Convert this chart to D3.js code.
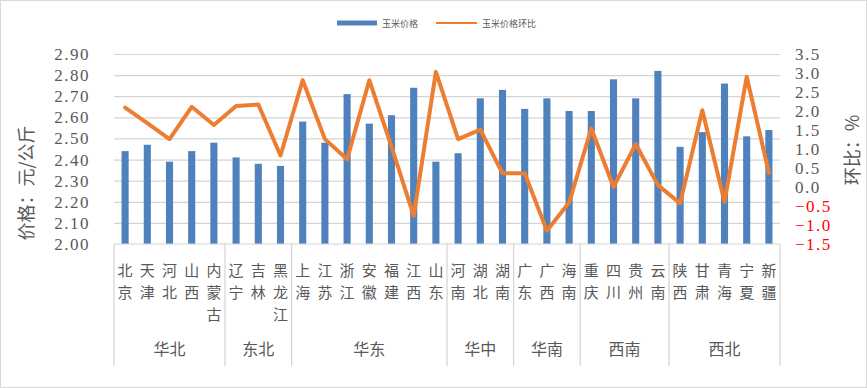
<!DOCTYPE html>
<html>
<head>
<meta charset="utf-8">
<script src="https://cdn.jsdelivr.net/npm/d3@7/dist/d3.min.js"></script>
<style>
  body { margin: 0; background: #fff; }
  text { font-family: "Noto Sans CJK SC", sans-serif; }
</style>
</head>
<body>
<svg id="chart" width="867" height="388"></svg>
<script>
const regions = ["华北", "东北", "华东", "华中", "华南", "西南", "西北"];
const regionSizes = [5, 3, 7, 3, 3, 4, 5];
const provinces = ["北京", "天津", "河北", "山西", "内蒙古", "辽宁", "吉林", "黑龙江",
  "上海", "江苏", "浙江", "安徽", "福建", "江西", "山东", "河南", "湖北", "湖南",
  "广东", "广西", "海南", "重庆", "四川", "贵州", "云南", "陕西", "甘肃", "青海", "宁夏", "新疆"];
const prices = [2.44, 2.47, 2.39, 2.44, 2.48, 2.41, 2.38, 2.37,
  2.58, 2.48, 2.71, 2.57, 2.61, 2.74, 2.39, 2.43, 2.69, 2.73,
  2.64, 2.69, 2.63, 2.63, 2.78, 2.69, 2.82, 2.46, 2.53, 2.76, 2.51, 2.54];
const changes = [2.09, 1.68, 1.26, 2.11, 1.63, 2.13, 2.17, 0.83,
  2.81, 1.26, 0.73, 2.81, 1.06, -0.76, 3.03, 1.26, 1.51, 0.36,
  0.36, -1.15, -0.41, 1.54, 0.0, 1.13, 0.05, -0.43, 2.02, -0.39, 2.9, 0.37];
const priceTicks = [2.0, 2.1, 2.2, 2.3, 2.4, 2.5, 2.6, 2.7, 2.8, 2.9];
const changeTicks = [-1.5, -1.0, -0.5, 0.0, 0.5, 1.0, 1.5, 2.0, 2.5, 3.0, 3.5];

const width = 867;
const height = 388;
const margin = { top: 54, left: 114, bottom: 144, right: 87 };
const iwidth = width - margin.left - margin.right;
const iheight = height - margin.top - margin.bottom;

const svg = d3.select("#chart");

// outer frame
svg.append("rect")
  .attr("x", 0.5).attr("y", 0.5)
  .attr("width", width - 1).attr("height", height - 1)
  .attr("fill", "#fff").attr("stroke", "#d9d9d9");

const g = svg.append("g")
  .attr("transform", `translate(${margin.left},${margin.top})`);

const x = d3.scaleBand().domain(provinces).range([0, iwidth]).padding(0);
const y = d3.scaleLinear().domain([2.0, 2.9]).range([iheight, 0]);
const y2 = d3.scaleLinear().domain([-1.5, 3.5]).range([iheight, 0]);

// gridlines
g.append("g")
  .attr("class", "grid")
  .call(d3.axisLeft(y).tickValues(priceTicks.slice(1)).tickSize(-iwidth).tickFormat(""))
  .call(s => s.select(".domain").remove())
  .call(s => s.selectAll("line").attr("stroke", "#d4d4d4").attr("stroke-width", 1.2));

// left axis labels
g.append("g")
  .call(d3.axisLeft(y).tickValues(priceTicks).tickSize(0).tickPadding(24).tickFormat(d3.format(".2f")))
  .call(s => s.select(".domain").remove())
  .call(s => s.selectAll("text")
    .attr("fill", "#595959")
    .style("font-family", "'Liberation Serif', serif")
    .style("font-size", "17px")
    .style("letter-spacing", "1.5px"));

// right axis labels
g.append("g")
  .attr("transform", `translate(${iwidth},0)`)
  .call(d3.axisRight(y2).tickValues(changeTicks).tickSize(0).tickPadding(15).tickFormat(d3.format(".1f")))
  .call(s => s.select(".domain").remove())
  .call(s => s.selectAll("text")
    .attr("fill", d => d < 0 ? "#ff0000" : "#595959")
    .style("font-family", "'Liberation Serif', serif")
    .style("font-size", "17px")
    .style("letter-spacing", "1.5px"));

// bars
const barW = x.bandwidth() * 0.32;
g.selectAll("rect.bar")
  .data(provinces)
  .enter()
  .append("rect")
  .attr("class", "bar")
  .attr("fill", "#4f81bd")
  .attr("x", d => x(d) + x.bandwidth() / 2 - barW / 2)
  .attr("y", (d, i) => y(prices[i]))
  .attr("width", barW)
  .attr("height", (d, i) => iheight - y(prices[i]));

// category axis
g.append("line")
  .attr("x1", 0).attr("x2", iwidth)
  .attr("y1", iheight).attr("y2", iheight)
  .attr("stroke", "#d4d4d4").attr("stroke-width", 1.2);

let start = 0;
const groups = regions.map((r, i) => {
  const grp = { name: r, first: provinces[start], last: provinces[start + regionSizes[i] - 1] };
  start += regionSizes[i];
  return grp;
});

const bounds = [0].concat(groups.map(d => x(d.last) + x.bandwidth()));
g.selectAll("line.sep")
  .data(bounds)
  .enter()
  .append("line")
  .attr("class", "sep")
  .attr("x1", d => d).attr("x2", d => d)
  .attr("y1", iheight).attr("y2", iheight + 122)
  .attr("stroke", "#d4d4d4").attr("stroke-width", 1.2);

// province names, one character per row
const chars = [];
provinces.forEach(p => p.split("").forEach((c, j) => chars.push({ p, c, j })));
g.selectAll("text.cat")
  .data(chars)
  .enter()
  .append("text")
  .attr("class", "cat")
  .attr("text-anchor", "middle")
  .attr("fill", "#595959")
  .style("font-size", "15px")
  .attr("x", d => x(d.p) + x.bandwidth() / 2)
  .attr("y", d => iheight + 32 + d.j * 22)
  .text(d => d.c);

g.selectAll("text.grp")
  .data(groups)
  .enter()
  .append("text")
  .attr("class", "grp")
  .attr("text-anchor", "middle")
  .attr("fill", "#595959")
  .style("font-size", "16px")
  .attr("x", d => (x(d.first) + x(d.last) + x.bandwidth()) / 2)
  .attr("y", iheight + 111)
  .text(d => d.name);

// change line
const line = d3.line()
  .x((d, i) => x(provinces[i]) + x.bandwidth() / 2)
  .y(d => y2(d));
g.append("path")
  .datum(changes)
  .attr("fill", "none")
  .attr("stroke", "#ed7d31")
  .attr("stroke-width", 4)
  .attr("stroke-linejoin", "round")
  .attr("stroke-linecap", "round")
  .attr("d", line);

// axis titles
svg.append("text")
  .attr("transform", "translate(33,183) rotate(-90)")
  .attr("text-anchor", "middle")
  .attr("fill", "#595959")
  .style("font-size", "18px")
  .text("价格：元/公斤");
svg.append("text")
  .attr("transform", "translate(859,150) rotate(-90)")
  .attr("text-anchor", "middle")
  .attr("fill", "#595959")
  .style("font-size", "18px")
  .text("环比：%");

// legend
const legend = svg.append("g").attr("transform", "translate(337,23)");
legend.append("rect")
  .attr("x", 0).attr("y", -2.5).attr("width", 40).attr("height", 5)
  .attr("fill", "#4f81bd");
legend.append("text")
  .attr("x", 45).attr("y", 3.5)
  .attr("fill", "#595959").style("font-size", "9px")
  .text("玉米价格");
legend.append("line")
  .attr("x1", 99).attr("x2", 140).attr("y1", 0).attr("y2", 0)
  .attr("stroke", "#ed7d31").attr("stroke-width", 2);
legend.append("text")
  .attr("x", 145).attr("y", 3.5)
  .attr("fill", "#595959").style("font-size", "9px")
  .text("玉米价格环比");
</script>
</body>
</html>
